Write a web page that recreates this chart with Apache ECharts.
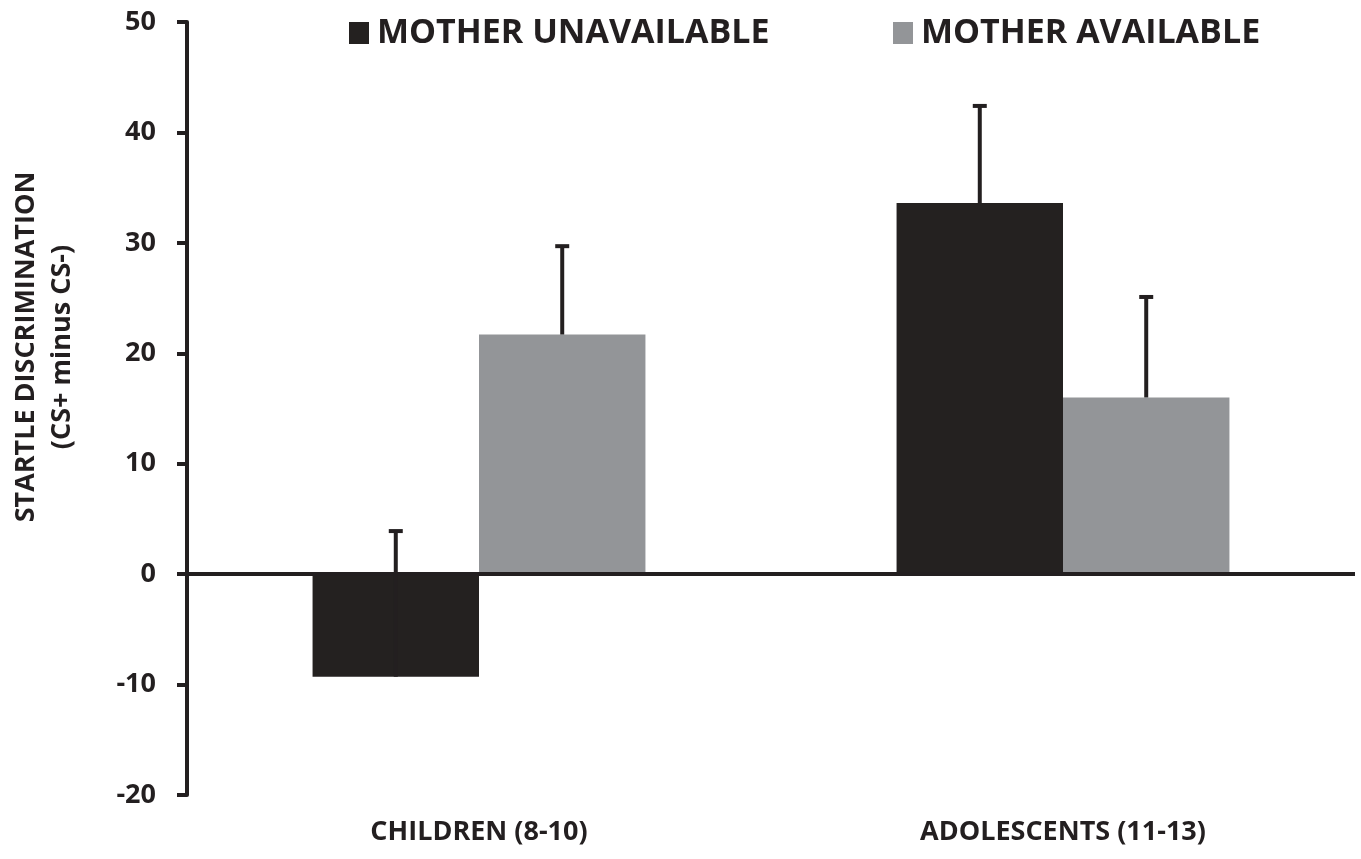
<!DOCTYPE html>
<html>
<head>
<meta charset="utf-8">
<script src="https://cdn.jsdelivr.net/npm/echarts@6/dist/echarts.min.js"></script>
<style>
html,body{margin:0;padding:0;background:#fff;}
#chart{width:1361px;height:859px;}
</style>
</head>
<body>
<div id="chart"></div>
<script>
const categories = ['CHILDREN (8-10)', 'ADOLESCENTS (11-13)'];
const seriesNames = ['MOTHER UNAVAILABLE', 'MOTHER AVAILABLE'];
const unavailableValues = [-9.3, 33.6];
const unavailableErrors = [13.2, 8.8];
const availableValues = [21.7, 16.0];
const availableErrors = [8.0, 9.1];
const yTicks = { min: -20, max: 50, interval: 10 };
const yTitleLines = ['STARTLE DISCRIMINATION', '(CS+ minus CS-)'];

const FONT = '"Open Sans", sans-serif';
const TXT = '#231f20';
const BLACK = '#242120';
const GRAY = '#939598';
const BAR_FRAC = 0.285;
const LW = 4;

function errorSeries(name, values, errors, side) {
  const data = values.map((v, i) => [i, v, v + errors[i]]);
  return {
    type: 'custom',
    name: name + ' err',
    z: 5,
    data: data,
    encode: { x: 0, y: [1, 2] },
    renderItem: function (params, api) {
      const catW = api.size([1, 0])[0];
      const off = side * catW * BAR_FRAC / 2;
      const p0 = api.coord([api.value(0), api.value(1)]);
      const p1 = api.coord([api.value(0), api.value(2)]);
      const x = p0[0] + off;
      const cap = 7;
      const style = { stroke: '#231f20', lineWidth: LW, fill: null };
      return {
        type: 'group',
        children: [
          { type: 'line', shape: { x1: x, y1: p0[1], x2: x, y2: p1[1] }, style: style },
          { type: 'line', shape: { x1: x - cap, y1: p1[1], x2: x + cap, y2: p1[1] }, style: style }
        ]
      };
    }
  };
}

const legendText = { fontFamily: FONT, fontWeight: 'bold', fontSize: 34, color: TXT, padding: [0, 0, 0, 3] };

const chart = echarts.init(document.getElementById('chart'));
chart.setOption({
  backgroundColor: '#ffffff',
  animation: false,
  legend: [
    { data: [seriesNames[0]], left: 344, top: 11, itemWidth: 20, itemHeight: 22, icon: 'rect', textStyle: legendText },
    { data: [seriesNames[1]], left: 888, top: 11, itemWidth: 20, itemHeight: 22, icon: 'rect', textStyle: legendText }
  ],
  graphic: [
    {
      type: 'text', x: 26, y: 347, rotation: Math.PI / 2,
      style: { text: yTitleLines[0], fontFamily: FONT, fontWeight: 'bold', fontSize: 27, fill: TXT, align: 'center', verticalAlign: 'middle' }
    },
    {
      type: 'text', x: 62, y: 347, rotation: Math.PI / 2,
      style: { text: yTitleLines[1], fontFamily: FONT, fontWeight: 'bold', fontSize: 27, fill: TXT, align: 'center', verticalAlign: 'middle' }
    }
  ],
  grid: { left: 187, right: 6, top: 22, bottom: 64, containLabel: false, outerBoundsMode: 'none' },
  xAxis: {
    type: 'category',
    data: categories,
    axisLine: { show: false, onZero: false },
    axisTick: { show: false },
    axisLabel: { fontFamily: FONT, fontWeight: 'bold', fontSize: 27, color: TXT, margin: 24 }
  },
  yAxis: {
    type: 'value',
    min: yTicks.min, max: yTicks.max, interval: yTicks.interval,
    axisLine: { show: true, lineStyle: { color: '#231f20', width: LW } },
    axisTick: { show: true, length: 10, lineStyle: { color: '#231f20', width: LW } },
    axisLabel: { fontFamily: FONT, fontWeight: 'bold', fontSize: 27, color: TXT, margin: 31 },
    splitLine: { show: false }
  },
  series: [
    {
      name: seriesNames[0], type: 'bar', data: unavailableValues,
      barWidth: (BAR_FRAC * 100) + '%', barGap: '0%',
      itemStyle: { color: BLACK },
      markLine: {
        silent: true, symbol: 'none', label: { show: false },
        lineStyle: { color: '#231f20', width: LW, type: 'solid' },
        data: [{ yAxis: 0 }]
      }
    },
    {
      name: seriesNames[1], type: 'bar', data: availableValues,
      barWidth: (BAR_FRAC * 100) + '%', barGap: '0%',
      itemStyle: { color: GRAY }
    },
    errorSeries(seriesNames[0], unavailableValues, unavailableErrors, -1),
    errorSeries(seriesNames[1], availableValues, availableErrors, 1)
  ]
});
</script>
</body>
</html>
